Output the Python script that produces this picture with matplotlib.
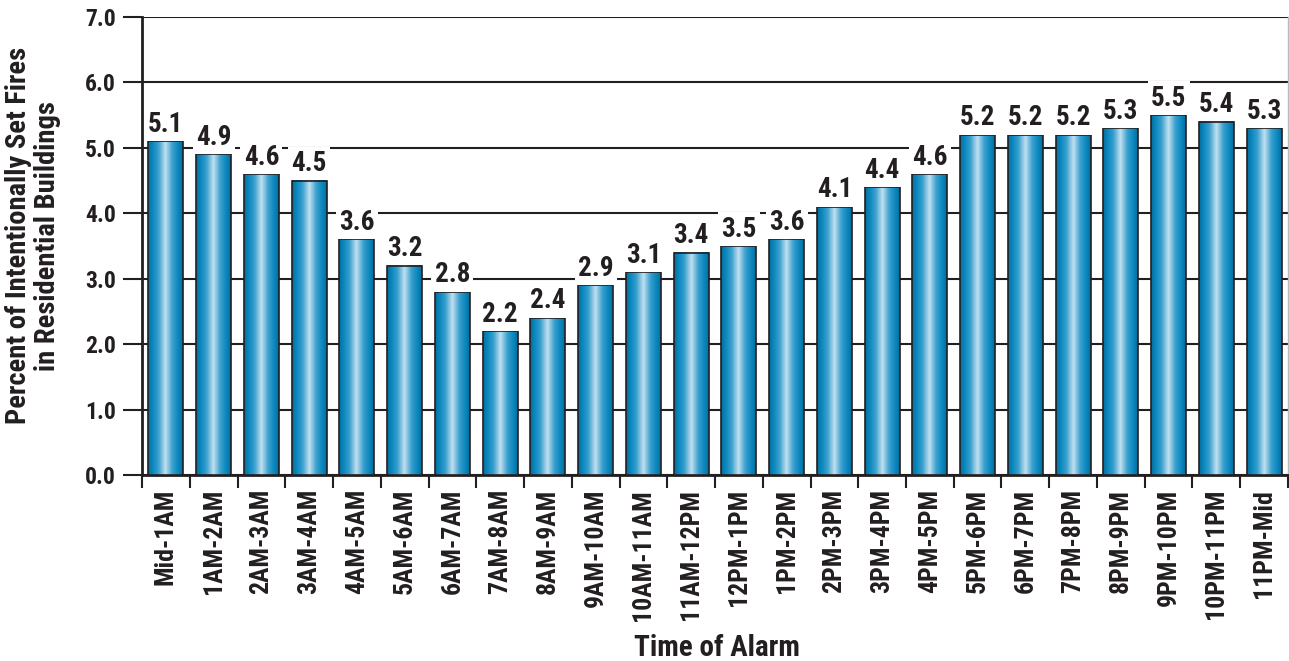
import numpy as np
import matplotlib
matplotlib.use("Agg")
import matplotlib.pyplot as plt
from matplotlib.colors import LinearSegmentedColormap
from matplotlib import font_manager as fm

categories = ["Mid-1AM", "1AM-2AM", "2AM-3AM", "3AM-4AM", "4AM-5AM", "5AM-6AM",
              "6AM-7AM", "7AM-8AM", "8AM-9AM", "9AM-10AM", "10AM-11AM", "11AM-12PM",
              "12PM-1PM", "1PM-2PM", "2PM-3PM", "3PM-4PM", "4PM-5PM", "5PM-6PM",
              "6PM-7PM", "7PM-8PM", "8PM-9PM", "9PM-10PM", "10PM-11PM", "11PM-Mid"]
values = [5.1, 4.9, 4.6, 4.5, 3.6, 3.2, 2.8, 2.2, 2.4, 2.9, 3.1, 3.4,
          3.5, 3.6, 4.1, 4.4, 4.6, 5.2, 5.2, 5.2, 5.3, 5.5, 5.4, 5.3]
yticks = [0.0, 1.0, 2.0, 3.0, 4.0, 5.0, 6.0, 7.0]
ylabel = "Percent of Intentionally Set Fires\nin Residential Buildings"
xlabel = "Time of Alarm"


def _w(f):
    w = f.weight
    if isinstance(w, str):
        return {"bold": 700, "heavy": 800, "black": 900, "semibold": 600,
                "demibold": 600}.get(w.lower(), 400)
    return w


def pick(names, condensed):
    for name in names:
        for f in fm.fontManager.ttflist:
            st = str(f.stretch).lower()
            is_cond = ("condensed" in st or "narrow" in st or "condensed" in f.name.lower()
                       or "narrow" in f.name.lower())
            if f.name == name and f.style == "normal" and 650 <= _w(f) <= 750 \
                    and is_cond == condensed:
                return f.fname
    return None


cpath = pick(["Liberation Sans Narrow", "Roboto Condensed", "Open Sans Condensed",
              "Noto Sans", "DejaVu Sans Condensed", "DejaVu Sans"], True)


def nfont(size):
    if cpath:
        fp = fm.FontProperties(fname=cpath)
    else:
        fp = fm.FontProperties(family="DejaVu Sans", weight="bold")
    fp.set_size(size)
    return fp


dark = "#231f20"

fig = plt.figure(figsize=(12.89, 6.61), dpi=100)
ax = fig.add_axes([0.1102, 0.2814, 0.889, 0.6929])

x = np.arange(len(categories))
bars = ax.bar(x, values, width=0.73, color="none", edgecolor=dark, linewidth=1.2, zorder=4)

cmap = LinearSegmentedColormap.from_list("cyl", [
    (0.0, "#076b9a"), (0.12, "#0786bd"), (0.3, "#389fce"),
    (0.5, "#c4e1f0"), (0.7, "#389fce"), (0.88, "#0786bd"), (1.0, "#076b9a")])
grad = np.linspace(0, 1, 256).reshape(1, -1)
for b in bars:
    bb = b.get_bbox()
    ax.imshow(grad, cmap=cmap, aspect="auto", extent=(bb.x0, bb.x1, bb.y0, bb.y1),
              zorder=3, interpolation="bicubic")

for xi, v in zip(x, values):
    ax.annotate(f"{v:.1f}", (xi, v), xytext=(0, 2.5), textcoords="offset points",
                ha="center", va="bottom", fontproperties=nfont(19.5), color=dark, zorder=6,
                bbox=dict(boxstyle="square,pad=0.12", fc="white", ec="none"))

ax.set_xlim(-0.5, len(categories) - 0.5)
ax.set_ylim(0, 7)
ax.set_yticks(yticks)
ax.set_yticklabels([f"{t:.1f}" for t in yticks], fontproperties=nfont(17), color=dark)
ax.yaxis.grid(True, color=dark, linewidth=1.5, zorder=1)
ax.set_axisbelow(True)
ax.tick_params(axis="y", length=14, width=1.5, color=dark, pad=5)

ax.set_xticks(x)
ax.set_xticklabels(categories, rotation=90, fontproperties=nfont(18.5), color=dark)
ax.set_xticks(np.arange(len(categories) + 1) - 0.5, minor=True)
ax.tick_params(axis="x", which="major", length=0, pad=10)
ax.tick_params(axis="x", which="minor", length=9, width=1.5, color=dark)

for s in ["left", "bottom"]:
    ax.spines[s].set_color(dark)
    ax.spines[s].set_linewidth(2.0)
ax.spines["top"].set_visible(False)
ax.spines["right"].set_color("#bbbbbb")
ax.spines["right"].set_linewidth(1.0)

ax.set_ylabel(ylabel, fontproperties=nfont(20.5), color=dark, linespacing=1.08)
ax.yaxis.set_label_coords(-0.071, 0.522)
fig.text(0.5562, 0.0076, xlabel, ha="center", va="baseline", fontproperties=nfont(21),
         color=dark)

fig.savefig("out.png", dpi=100)
